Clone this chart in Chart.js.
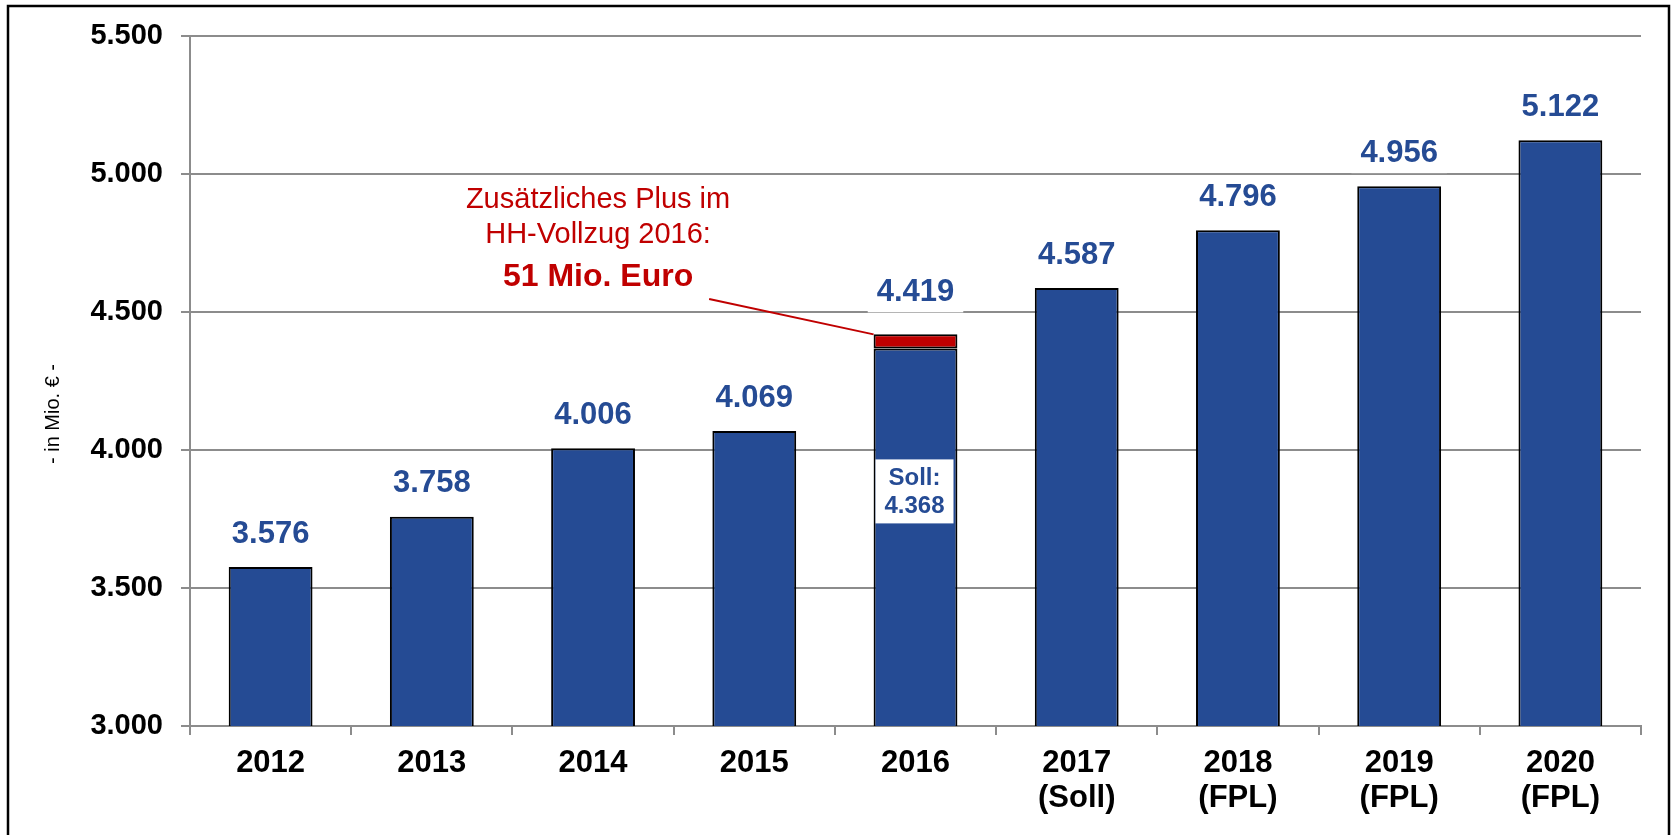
<!DOCTYPE html>
<html>
<head>
<meta charset="utf-8">
<script src="https://cdn.jsdelivr.net/npm/chart.js@4/dist/chart.umd.min.js"></script>
<style>
  body { margin: 0; background: #fff; }
</style>
</head>
<body>
<canvas id="myChart" width="1675" height="835"></canvas>
<script>
// data
var categories = ['2012', '2013', '2014', '2015', '2016', ['2017', '(Soll)'], ['2018', '(FPL)'], ['2019', '(FPL)'], ['2020', '(FPL)']];
var baseValues = [3576, 3758, 4006, 4069, 4368, 4587, 4796, 4956, 5122];
var extraValues = [null, null, null, null, 51, null, null, null, null];
var yMin = 3000, yMax = 5500, yStep = 500;

var FONT = 'Arial, "Liberation Sans", sans-serif';
var BLUE = 'rgb(37, 75, 148)';
var RED = 'rgb(192, 0, 0)';
var GRID = 'rgb(140, 140, 140)';

function fmt(v) {
  return String(v).replace(/\B(?=(\d{3})+(?!\d))/g, '.');
}

var extras = {
  id: 'extras',
  beforeDraw: function(chart) {
    var ctx = chart.ctx;
    ctx.save();
    ctx.fillStyle = '#fff';
    ctx.fillRect(0, 0, chart.width, chart.height);
    ctx.restore();
  },
  afterDatasetsDraw: function(chart) {
    var ctx = chart.ctx;
    var x = chart.scales.x, y = chart.scales.y;
    var meta = chart.getDatasetMeta(0);
    ctx.save();

    // value labels above bars, on white boxes
    ctx.font = 'bold 31px ' + FONT;
    ctx.textAlign = 'center';
    ctx.textBaseline = 'middle';
    for (let i = 0; i < baseValues.length; i++) {
      var total = baseValues[i] + (extraValues[i] || 0);
      var bx = meta.data[i].x;
      var top = y.getPixelForValue(total);
      var cy = top - (extraValues[i] ? 43 : 34);
      var txt = fmt(total);
      var w = ctx.measureText(txt).width + 18;
      ctx.fillStyle = '#fff';
      ctx.fillRect(bx - w / 2, cy - 21, w, 42);
      ctx.fillStyle = BLUE;
      ctx.fillText(txt, bx, cy + 1);
    }

    // Soll box inside the 2016 bar
    var bar = meta.data[4];
    var sy = y.getPixelForValue(3850);
    ctx.fillStyle = '#fff';
    ctx.fillRect(bar.x - 40, sy - 32, 78, 64);
    ctx.fillStyle = BLUE;
    ctx.font = 'bold 24px ' + FONT;
    ctx.fillText('Soll:', bar.x - 1, sy - 13);
    ctx.fillText(fmt(baseValues[4]), bar.x - 1, sy + 15);

    // annotation
    var ax = x.getPixelForValue(2) + 5;
    ctx.fillStyle = RED;
    ctx.font = '29px ' + FONT;
    ctx.fillText('Zusätzliches Plus im', ax, y.getPixelForValue(4906));
    ctx.fillText('HH-Vollzug 2016:', ax, y.getPixelForValue(4779));
    ctx.font = 'bold 32px ' + FONT;
    ctx.fillText('51 Mio. Euro', ax, y.getPixelForValue(4627));

    ctx.strokeStyle = RED;
    ctx.lineWidth = 2;
    ctx.beginPath();
    ctx.moveTo(x.getPixelForValue(2.72), y.getPixelForValue(4547));
    ctx.lineTo(bar.x - bar.width / 2, y.getPixelForValue(baseValues[4] + extraValues[4]));
    ctx.stroke();

    // y axis title
    ctx.fillStyle = '#000';
    ctx.font = '20px ' + FONT;
    ctx.translate(53, 414);
    ctx.rotate(-Math.PI / 2);
    ctx.fillText('- in Mio. € -', 0, 0);
    ctx.restore();
  },
  afterDraw: function(chart) {
    var ctx = chart.ctx;
    ctx.save();
    ctx.strokeStyle = '#000';
    ctx.lineWidth = 2.5;
    ctx.strokeRect(8, 6, 1661, 840);
    ctx.restore();
  }
};

const data = {
  labels: categories,
  datasets: [{
    label: 'Soll',
    backgroundColor: BLUE,
    borderColor: '#000',
    borderWidth: 2,
    borderSkipped: false,
    data: baseValues,
  }, {
    label: 'Plus',
    backgroundColor: RED,
    borderColor: '#000',
    borderWidth: 2,
    borderSkipped: false,
    data: extraValues,
  }]
};

const config = {
  type: 'bar',
  data,
  plugins: [extras],
  options: {
    responsive: false,
    devicePixelRatio: 1,
    animation: false,
    datasets: { bar: { categoryPercentage: 1, barPercentage: 0.52 } },
    layout: { padding: { left: 0, right: 34, top: 36, bottom: 0 } },
    plugins: { legend: { display: false }, tooltip: { enabled: false } },
    scales: {
      x: {
        stacked: true,
        grid: { drawOnChartArea: false, color: GRID, lineWidth: 2, tickLength: 9 },
        border: { color: GRID, width: 2 },
        ticks: {
          color: '#000',
          font: { family: FONT, size: 31, weight: 'bold', lineHeight: 1.16 },
          padding: 10,
          maxRotation: 0,
          autoSkip: false
        },
        afterFit: function(s) { s.height = 109; }
      },
      y: {
        stacked: true,
        min: yMin,
        max: yMax,
        grid: { color: GRID, lineWidth: 2, tickLength: 9 },
        border: { color: GRID, width: 2 },
        ticks: {
          stepSize: yStep,
          color: '#000',
          font: { family: FONT, size: 29, weight: 'bold' },
          padding: 18,
          callback: function(value) { return fmt(value); }
        },
        afterFit: function(s) { s.width = 190; }
      }
    }
  }
};

var myChart = new Chart(
  document.getElementById('myChart'),
  config
);
</script>
</body>
</html>
